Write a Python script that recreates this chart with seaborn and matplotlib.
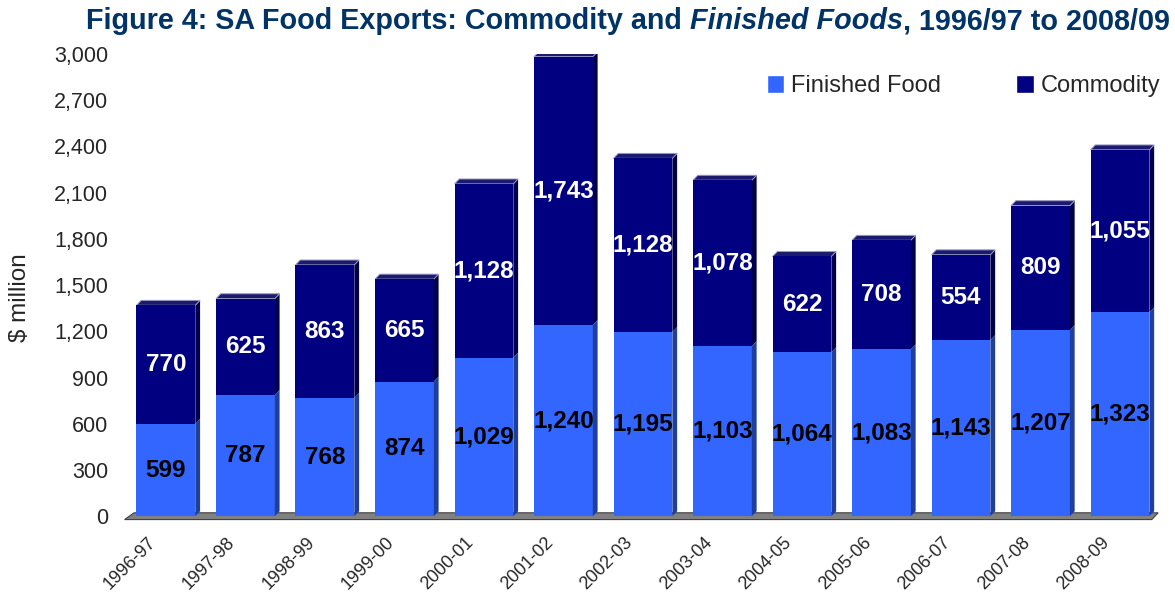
import numpy as np
import pandas as pd
import matplotlib
matplotlib.use("Agg")
import matplotlib.pyplot as plt
import seaborn as sns
from matplotlib.patches import Polygon, Patch
from matplotlib.transforms import ScaledTranslation

years = ["1996-97", "1997-98", "1998-99", "1999-00", "2000-01", "2001-02", "2002-03",
         "2003-04", "2004-05", "2005-06", "2006-07", "2007-08", "2008-09"]
finished = [599, 787, 768, 874, 1029, 1240, 1195, 1103, 1064, 1083, 1143, 1207, 1323]
commodity = [770, 625, 863, 665, 1128, 1743, 1128, 1078, 622, 708, 554, 809, 1055]
yticks = [0, 300, 600, 900, 1200, 1500, 1800, 2100, 2400, 2700, 3000]

C_FIN = "#3366FF"
C_COM = "#000080"
TITLE_C = "#003366"

sns.set_theme(style="white")
plt.rcParams['font.family'] = ['Liberation Sans', 'DejaVu Sans']

df = pd.DataFrame({"year": years, "finished": finished, "commodity": commodity})
df["total"] = df["finished"] + df["commodity"]

fig = plt.figure(figsize=(11.75, 5.94), dpi=100)
ax = fig.add_axes([0.106, 0.131, 0.881, 0.778])

W = 0.74
sns.barplot(data=df, x="year", y="total", color=C_COM, width=W, ax=ax,
            saturation=1, edgecolor="none", zorder=3)
sns.barplot(data=df, x="year", y="finished", color=C_FIN, width=W, ax=ax,
            saturation=1, edgecolor="none", zorder=3)

ax.set_ylim(0, 3000)
ax.set_xlim(-0.52, 12.5)

# 3D side and top faces derived from bar patches
dx, dy = 0.06, 32
n = len(years)
for i, p in enumerate(ax.patches[:2 * n]):
    x0 = p.get_x(); w = p.get_width(); h = p.get_height()
    x1 = x0 + w
    is_total = i < n
    side_c = "#00004A" if is_total else "#1F3F9E"
    base = finished[i] if is_total else 0
    side = Polygon([(x1, base), (x1 + dx, base + dy), (x1 + dx, h + dy), (x1, h)],
                   closed=True, facecolor=side_c, edgecolor="none", zorder=2)
    ax.add_patch(side)
    if is_total:
        top = Polygon([(x0, h), (x0 + dx, h + dy), (x1 + dx, h + dy), (x1, h)],
                      closed=True, facecolor="#1A1A6E", edgecolor="#9A9AC4",
                      linewidth=0.7, zorder=2)
        ax.add_patch(top)
    else:
        side.set_zorder(3.5)

# floor
xl, xr = ax.get_xlim()
floor = Polygon([(xl, -22), (xl + 0.12, 22), (xr - 0.02, 22), (xr - 0.1, -22)],
                closed=True, facecolor="#808080", edgecolor="#404040",
                linewidth=0.8, zorder=1, clip_on=False)
ax.add_patch(floor)

# value labels
for i in range(n):
    ax.text(i, finished[i] / 2, f"{finished[i]:,}", ha="center", va="center",
            fontsize=17.5, fontweight="bold", color="black", zorder=5)
    ax.text(i, finished[i] + commodity[i] / 2, f"{commodity[i]:,}", ha="center",
            va="center", fontsize=17.5, fontweight="bold", color="white", zorder=5)

ax.set_yticks(yticks)
ax.set_yticklabels([f"{v:,}" for v in yticks], fontsize=15.5)
ax.tick_params(axis="y", length=0, pad=12)
ax.set_xticks(range(n))
ax.set_xticklabels(years, rotation=45, ha="right", rotation_mode="anchor", fontsize=13)
ax.tick_params(axis="x", length=0, pad=13)
shift = ScaledTranslation(-19 / 100, 0, fig.dpi_scale_trans)
for lab in ax.get_xticklabels():
    lab.set_transform(lab.get_transform() + shift)
ax.set_xlabel("")
ax.set_ylabel("$ million", fontsize=17.5)
ax.yaxis.set_label_coords(-0.09, 0.474)
for s in ax.spines.values():
    s.set_visible(False)

handles = [Patch(facecolor=C_FIN, label="Finished Food"),
           Patch(facecolor=C_COM, label="Commodity")]
ax.legend(handles=handles, ncol=2, frameon=False, fontsize=17, loc="upper right",
          bbox_to_anchor=(1.021, 1.0), handlelength=0.75, handleheight=0.75,
          handletextpad=0.3, columnspacing=3.15)

# title in three pieces, centered as a whole
ty = 0.988
pieces = [("Figure 4: SA Food Exports: Commodity and ", "normal"),
          ("Finished Foods", "italic"),
          (", 1996/97 to 2008/09", "normal")]
texts = []
fig.canvas.draw()
r = fig.canvas.get_renderer()
x = 0.0
for s, st in pieces:
    t = fig.text(x, ty, s, ha="left", va="top", fontsize=20.7, fontweight="bold",
                 style=st, color=TITLE_C)
    bb = t.get_window_extent(renderer=r)
    x = bb.x1 / fig.bbox.width
    texts.append(t)
total_w = x
x_start = 628 / 1175 - total_w / 2
for t in texts:
    px, py = t.get_position()
    t.set_position((px + x_start, py))

fig.savefig("out.png", dpi=100)
